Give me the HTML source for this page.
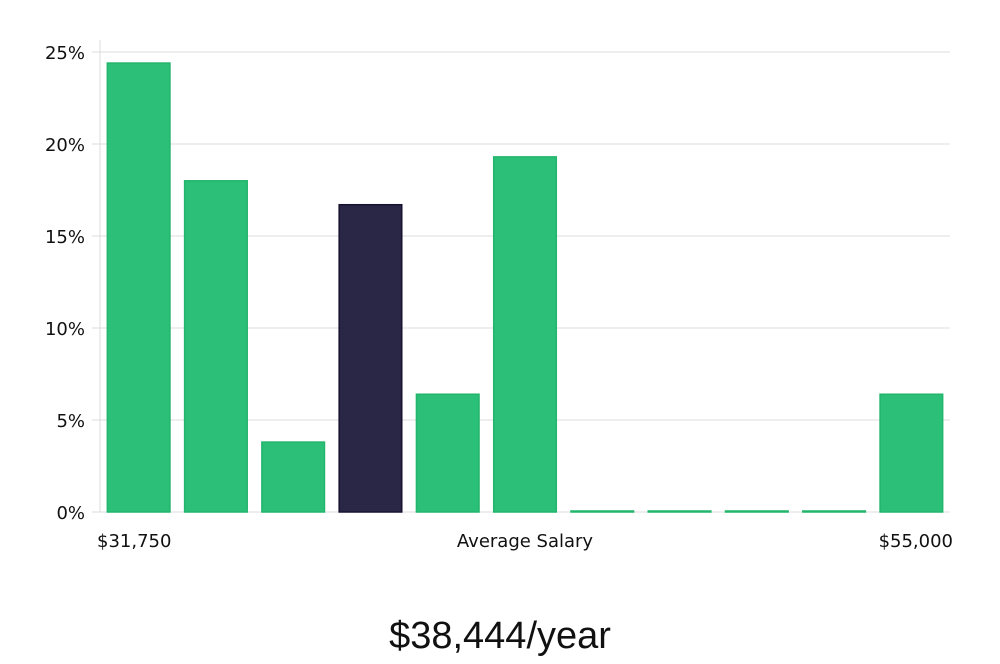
<!DOCTYPE html>
<html><head><meta charset="utf-8"><style>
body{margin:0;background:#fff;width:1000px;height:660px;overflow:hidden;font-family:"DejaVu Sans","Liberation Sans",sans-serif}
svg text{font-family:"DejaVu Sans","Liberation Sans",sans-serif}
</style></head><body>
<svg width="1000" height="660">
<g id="grid"></g>
<g id="yticks"></g>
<g id="bars"></g>
<text x="97" y="547" font-size="18" fill="#111">$31,750</text>
<text x="525" y="547" font-size="18" fill="#111" text-anchor="middle">Average Salary</text>
<text x="953" y="547" font-size="18" fill="#111" text-anchor="end">$55,000</text>
<text x="500" y="648" font-size="38" fill="#111" text-anchor="middle" style="font-family:'Liberation Sans Narrow','Liberation Sans',sans-serif">$38,444/year</text>
</svg>
<script>
const categories=["b1","b2","b3","b4","b5","b6","b7","b8","b9","b10","b11"];
const values=[24.4,18.0,3.8,16.7,6.4,19.3,0,0,0,0,6.4];
const highlightIndex=3;
const yTicks=[0,5,10,15,20,25];
const ns="http://www.w3.org/2000/svg";
const y0=512,y1=52,yMax=25,xL=100,xR=950;
const y=v=>y0-(v/yMax)*(y0-y1);
const step=(xR-xL)/categories.length;
const bw=step*0.81;
const g=document.getElementById('grid'),yt=document.getElementById('yticks'),b=document.getElementById('bars');
const ax=document.createElementNS(ns,'line');
ax.setAttribute('x1',xL);ax.setAttribute('x2',xL);ax.setAttribute('y1',40);ax.setAttribute('y2',y0);ax.setAttribute('stroke','#ddd');


g.appendChild(ax);
yTicks.forEach(t=>{
 const l=document.createElementNS(ns,'line');
 l.setAttribute('x1',xL-8);l.setAttribute('x2',xR);l.setAttribute('y1',y(t));l.setAttribute('y2',y(t));l.setAttribute('stroke','#dcdcdc');
 
 
 g.appendChild(l);
 const tx=document.createElementNS(ns,'text');
 tx.setAttribute('x',85);tx.setAttribute('y',y(t)+7);tx.setAttribute('text-anchor','end');tx.setAttribute('font-size','18');tx.setAttribute('fill','#111');
 tx.textContent=t+'%';
 
 
 yt.appendChild(tx);
});
values.forEach((v,i)=>{
 const r=document.createElementNS(ns,'rect');
 const x=xL+i*step+(step-bw)/2;
 const top=Math.min(y(v),y0-1);
 r.setAttribute('x',x);r.setAttribute('y',top);r.setAttribute('width',bw);r.setAttribute('height',y0-top);
 const hi=i===highlightIndex;
 r.setAttribute('fill',hi?'#2a2646':'#2bbf77');
 r.setAttribute('stroke',hi?'#161230':'#22b56c');r.setAttribute('stroke-width','1.5');
 
 
 b.appendChild(r);
});
</script>
</body></html>
